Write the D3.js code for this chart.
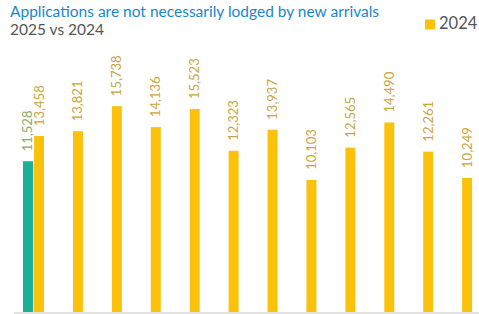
<!DOCTYPE html>
<html>
<head>
<meta charset="utf-8">
<script src="https://cdn.jsdelivr.net/npm/d3@7"></script>
<style>
  body { margin: 0; background: #fff; }
  text { font-family: Lato, "Open Sans", sans-serif; }
</style>
</head>
<body>
<script>
// 12 months, only the first one has a 2025 value so far
var months = ['Jan', 'Feb', 'Mar', 'Apr', 'May', 'Jun', 'Jul', 'Aug', 'Sep', 'Oct', 'Nov', 'Dec'];
var values2025 = [11528, null, null, null, null, null, null, null, null, null, null, null];
var values2024 = [13458, 13821, 15738, 14136, 15523, 12323, 13937, 10103, 12565, 14490, 12261, 10249];
var seriesNames = ['2025', '2024'];
var colors = ['#1aaf96', '#fcc10a'];
var labelColors = ['#8fab6c', '#c9a63e'];

var width = 479, height = 314;

var svg = d3.select('body').append('svg')
  .attr('width', width)
  .attr('height', height);

var x = d3.scaleBand()
  .domain(months)
  .range([14, 481]);

var inner = d3.scaleBand()
  .domain(seriesNames)
  .range([9, 30])
  .paddingInner(0.1);

var y = d3.scaleLinear()
  .domain([0, 20000])
  .range([312, 50.4]);

// flatten to one row per bar
var rows = [];
months.forEach(function(m, i) {
  [values2025, values2024].forEach(function(arr, s) {
    if (arr[i] != null) {
      rows.push({ month: m, series: seriesNames[s], s: s, value: arr[i] });
    }
  });
});

svg.selectAll('.bar')
  .data(rows)
  .enter()
  .append('rect')
  .classed('bar', true)
  .attr('x', function(d) { return x(d.month) + inner(d.series); })
  .attr('width', inner.bandwidth())
  .attr('y', function(d) { return y(d.value); })
  .attr('height', function(d) { return y(0) - y(d.value); })
  .style('fill', function(d) { return colors[d.s]; });

svg.selectAll('.lbl')
  .data(rows)
  .enter()
  .append('text')
  .classed('lbl', true)
  .attr('transform', function(d) {
    var cx = x(d.month) + inner(d.series) + inner.bandwidth() / 2;
    return 'translate(' + (cx + 4.5) + ',' + (y(d.value) - 10) + ') rotate(-90)';
  })
  .style('font-size', '13px')
  .style('fill', function(d) { return labelColors[d.s]; })
  .text(function(d) { return d3.format(',')(d.value); });

// baseline
svg.append('line')
  .attr('x1', 14).attr('x2', 479)
  .attr('y1', y(0) + 1).attr('y2', y(0) + 1)
  .style('stroke', '#e2e2e2')
  .style('stroke-width', 2);

// title + subtitle
svg.append('text')
  .attr('x', 10).attr('y', 17)
  .style('font-size', '15.5px')
  .style('fill', '#1a87c9')
  .text('Applications are not necessarily lodged by new arrivals');

svg.append('text')
  .attr('x', 10).attr('y', 35)
  .style('font-size', '15.5px')
  .style('fill', '#555')
  .text('2025 vs 2024');

// legend (only 2024 shown)
svg.append('rect')
  .attr('x', 425).attr('y', 19.5)
  .attr('width', 10).attr('height', 10)
  .style('fill', colors[1]);

svg.append('text')
  .attr('x', 439).attr('y', 29)
  .style('font-size', '16.5px')
  .style('fill', '#555')
  .text(seriesNames[1]);
</script>
</body>
</html>
